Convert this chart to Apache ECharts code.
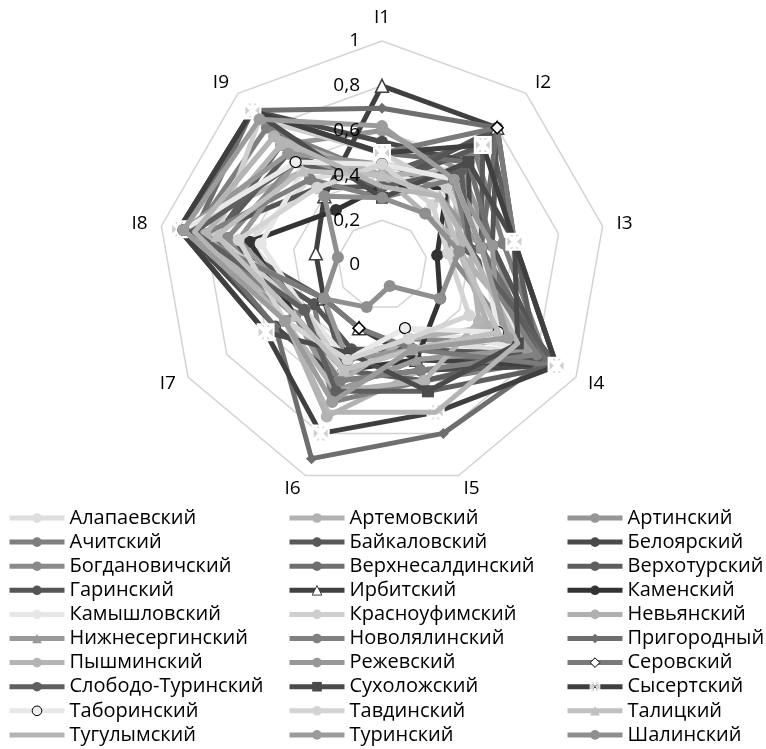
<!DOCTYPE html>
<html>
<head>
<meta charset="utf-8">
<script src="https://cdn.jsdelivr.net/npm/echarts@6/dist/echarts.min.js"></script>
<style>
  html, body { margin: 0; padding: 0; background: #fff; }
  #main { width: 766px; height: 749px; }
</style>
</head>
<body>
<div id="main"></div>
<script>
// индикаторы
var indicators = ['I1', 'I2', 'I3', 'I4', 'I5', 'I6', 'I7', 'I8', 'I9'];

// районы (порядок легенды)
var districts = [
    'Алапаевский', 'Артемовский', 'Артинский',
    'Ачитский', 'Байкаловский', 'Белоярский',
    'Богдановичский', 'Верхнесалдинский', 'Верхотурский',
    'Гаринский', 'Ирбитский', 'Каменский',
    'Камышловский', 'Красноуфимский', 'Невьянский',
    'Нижнесергинский', 'Новолялинский', 'Пригородный',
    'Пышминский', 'Режевский', 'Серовский',
    'Слободо-Туринский', 'Сухоложский', 'Сысертский',
    'Таборинский', 'Тавдинский', 'Талицкий',
    'Тугулымский', 'Туринский', 'Шалинский'
];

// значения I1..I9 по районам
var scores = [
    [0.45, 0.55, 0.45, 0.80, 0.35, 0.55, 0.40, 0.60, 0.50], // Алапаевский
    [0.40, 0.50, 0.35, 0.85, 0.50, 0.72, 0.50, 0.90, 0.55], // Артемовский
    [0.60, 0.55, 0.50, 0.75, 0.45, 0.60, 0.45, 0.80, 0.70], // Артинский
    [0.40, 0.65, 0.55, 0.85, 0.55, 0.65, 0.35, 0.85, 0.80], // Ачитский
    [0.35, 0.70, 0.45, 0.80, 0.40, 0.50, 0.30, 0.75, 0.65], // Байкаловский
    [0.55, 0.60, 0.40, 0.90, 0.50, 0.55, 0.55, 0.90, 0.90], // Белоярский
    [0.40, 0.45, 0.30, 0.70, 0.35, 0.45, 0.50, 0.70, 0.60], // Богдановичский
    [0.50, 0.60, 0.50, 0.85, 0.45, 0.60, 0.40, 0.90, 0.90], // Верхнесалдинский
    [0.40, 0.75, 0.60, 0.80, 0.55, 0.50, 0.40, 0.75, 0.70], // Верхотурский
    [0.35, 0.80, 0.50, 0.85, 0.40, 0.40, 0.35, 0.80, 0.45], // Гаринский
    [0.80, 0.80, 0.60, 0.90, 0.45, 0.30, 0.30, 0.30, 0.40], // Ирбитский
    [0.35, 0.45, 0.25, 0.30, 0.45, 0.50, 0.45, 0.60, 0.32], // Каменский
    [0.45, 0.40, 0.40, 0.75, 0.30, 0.45, 0.40, 0.55, 0.55], // Камышловский
    [0.50, 0.45, 0.45, 0.65, 0.40, 0.50, 0.40, 0.75, 0.85], // Красноуфимский
    [0.40, 0.55, 0.35, 0.55, 0.35, 0.55, 0.45, 0.85, 0.75], // Невьянский
    [0.40, 0.40, 0.45, 0.75, 0.45, 0.60, 0.40, 0.65, 0.60], // Нижнесергинский
    [0.30, 0.50, 0.40, 0.80, 0.50, 0.55, 0.45, 0.80, 0.50], // Новолялинский
    [0.70, 0.80, 0.45, 0.85, 0.80, 0.92, 0.55, 0.85, 0.90], // Пригородный
    [0.40, 0.30, 0.40, 0.50, 0.55, 0.60, 0.50, 0.80, 0.70], // Пышминский
    [0.45, 0.50, 0.50, 0.60, 0.40, 0.45, 0.30, 0.90, 0.65], // Режевский
    [0.50, 0.80, 0.60, 0.90, 0.40, 0.30, 0.30, 0.92, 0.90], // Серовский
    [0.35, 0.55, 0.40, 0.90, 0.60, 0.60, 0.40, 0.85, 0.60], // Слободо-Туринский
    [0.30, 0.60, 0.60, 0.70, 0.60, 0.42, 0.60, 0.92, 0.90], // Сухоложский
    [0.50, 0.70, 0.60, 0.90, 0.70, 0.80, 0.60, 0.92, 0.90], // Сысертский
    [0.45, 0.50, 0.45, 0.60, 0.30, 0.45, 0.50, 0.90, 0.60], // Таборинский
    [0.45, 0.35, 0.30, 0.45, 0.35, 0.45, 0.50, 0.65, 0.45], // Тавдинский
    [0.40, 0.40, 0.35, 0.60, 0.40, 0.50, 0.45, 0.75, 0.55], // Талицкий
    [0.35, 0.40, 0.40, 0.70, 0.70, 0.70, 0.50, 0.85, 0.75], // Тугулымский
    [0.62, 0.50, 0.45, 0.65, 0.40, 0.65, 0.50, 0.90, 0.85], // Туринский
    [0.30, 0.30, 0.35, 0.30, 0.10, 0.20, 0.30, 0.20, 0.40]  // Шалинский
];

// цвета линий (оттенки серого)
var lineColors = [
    '#dedede', '#b2b2b2', '#969696',
    '#7f7f7f', '#595959', '#4a4a4a',
    '#8a8a8a', '#707070', '#5e5e5e',
    '#555555', '#404040', '#333333',
    '#e6e6e6', '#cfcfcf', '#b0b0b0',
    '#999999', '#808080', '#6e6e6e',
    '#b4b4b4', '#979797', '#7a7a7a',
    '#5f5f5f', '#4b4b4b', '#3f3f3f',
    '#e8e8e8', '#d4d4d4', '#c0c0c0',
    '#b5b5b5', '#9c9c9c', '#8f8f8f'
];

// звёздочка Excel: квадрат с белым крестом
var starMark = 'path://M1.7,0L9,0L9,7.3ZM11,0L18.3,0L11,7.3ZM1.7,20L9,20L9,12.7ZM11,20L18.3,20L11,12.7ZM0,1.7L0,18.3L8.3,10ZM20,1.7L20,18.3L11.7,10Z';

// нестандартные маркеры
var markers = {
    'Ирбитский':       { symbol: 'triangle', size: 13, color: '#ffffff', border: '#404040', bw: 1.5 },
    'Нижнесергинский': { symbol: 'triangle', size: 12 },
    'Пригородный':     { symbol: 'diamond',  size: 11 },
    'Серовский':       { symbol: 'diamond',  size: 12, color: '#ffffff', border: '#000000', bw: 1.5 },
    'Сухоложский':     { symbol: 'rect',     size: 12 },
    'Сысертский':      { symbol: starMark,   size: 16, color: '#d0d0d0', border: '#ffffff', bw: 2 },
    'Таборинский':     { symbol: 'circle',   size: 11, color: '#eeeeee', border: '#000000', bw: 1.2 },
    'Талицкий':        { symbol: 'triangle', size: 12 },
    'Тугулымский':     { symbol: 'none',     size: 0 }
};

var FONT = 'Open Sans';

// ECharts рисует радар против часовой стрелки — переставляем оси, чтобы I2 был справа
var order = [0, 8, 7, 6, 5, 4, 3, 2, 1];
function reorder(arr) {
    return order.map(function (k) { return arr[k]; });
}

function markerOf(i) {
    var m = markers[districts[i]] || {};
    return {
        symbol: m.symbol || 'circle',
        size: m.size != null ? m.size : 12,
        color: m.color || lineColors[i],
        border: m.border || lineColors[i],
        bw: m.bw || 0
    };
}

var myChart = echarts.init(document.getElementById('main'));

// скрытые линейные серии — только ради значков легенды (линия + маркер)
var legendSeries = districts.map(function (name, i) {
    var m = markerOf(i);
    return {
        name: name,
        type: 'line',
        data: [],
        symbol: m.symbol === 'none' ? 'circle' : m.symbol,
        itemStyle: { color: m.color, borderColor: m.border, borderWidth: m.bw },
        lineStyle: { color: lineColors[i], width: 5 }
    };
});

// как в Excel: каждая следующая серия целиком (линия + маркеры) поверх предыдущей
var radarSeries = districts.map(function (name, i) {
    var m = markerOf(i);
    return {
        name: name,
        type: 'radar',
        radarIndex: 0,
        z: 2 + i,
        symbol: m.symbol,
        symbolSize: m.size,
        itemStyle: { color: m.color, borderColor: m.border, borderWidth: m.bw },
        lineStyle: { color: lineColors[i], width: 5, opacity: 1 },
        data: [{ name: name, value: reorder(scores[i]) }]
    };
});

var colLeft = [7, 287, 565];
var legends = colLeft.map(function (left, c) {
    return {
        orient: 'vertical',
        left: left,
        top: 506,
        height: 243,
        padding: 0,
        itemWidth: 55,
        itemHeight: 12,
        itemGap: 0.1,
        selectedMode: false,
        lineStyle: { width: 5 },
        textStyle: { fontFamily: FONT, fontSize: 20, color: '#000', lineHeight: 24 },
        data: districts.filter(function (d, i) { return i % 3 === c; }).map(function (d) {
            var i = districts.indexOf(d);
            var m = markerOf(i);
            if (m.symbol === 'none') return { name: d, itemStyle: { opacity: 0 } };
            if (m.bw) return { name: d, itemStyle: { borderWidth: d === 'Сысертский' ? 0.9 : 1 } };
            return { name: d };
        })
    };
});

var radarBase = {
    center: [382, 265],
    radius: 224,
    startAngle: 90,
    splitNumber: 5,
    shape: 'polygon',
    axisLine: { show: false },
    axisTick: { show: false },
    axisLabel: { show: false },
    splitArea: { show: false }
};

// основная сетка с подписями осей I1..I9
var radarGrid = Object.assign({}, radarBase, {
    z: 0,
    nameGap: 14,
    axisName: { color: '#000', fontFamily: FONT, fontSize: 19 },
    splitLine: { lineStyle: { color: '#d4d4d4', width: 1.5 } },
    indicator: reorder(indicators).map(function (n) {
        return { name: n, min: 0, max: 1 };
    })
});

// та же шкала, только подписи значений — поверх линий
var radarLabels = Object.assign({}, radarBase, {
    z: 100,
    axisName: { show: false },
    splitLine: { show: false },
    indicator: reorder(indicators).map(function (n, k) {
        var ind = { name: n, min: 0, max: 1 };
        if (k === 0) {
            ind.axisLabel = {
                show: true,
                margin: 22,
                color: '#000',
                fontFamily: FONT,
                fontSize: 19,
                formatter: function (v) { return String(v).replace('.', ','); }
            };
        }
        return ind;
    })
});

var option = {
    animation: false,
    backgroundColor: '#fff',
    grid: { show: false, left: 0, top: 0, width: 10, height: 10 },
    xAxis: { type: 'category', show: false, data: [] },
    yAxis: { type: 'value', show: false },
    legend: legends,
    radar: [radarGrid, radarLabels],
    series: legendSeries.concat(radarSeries)
};

myChart.setOption(option);
</script>
</body>
</html>
